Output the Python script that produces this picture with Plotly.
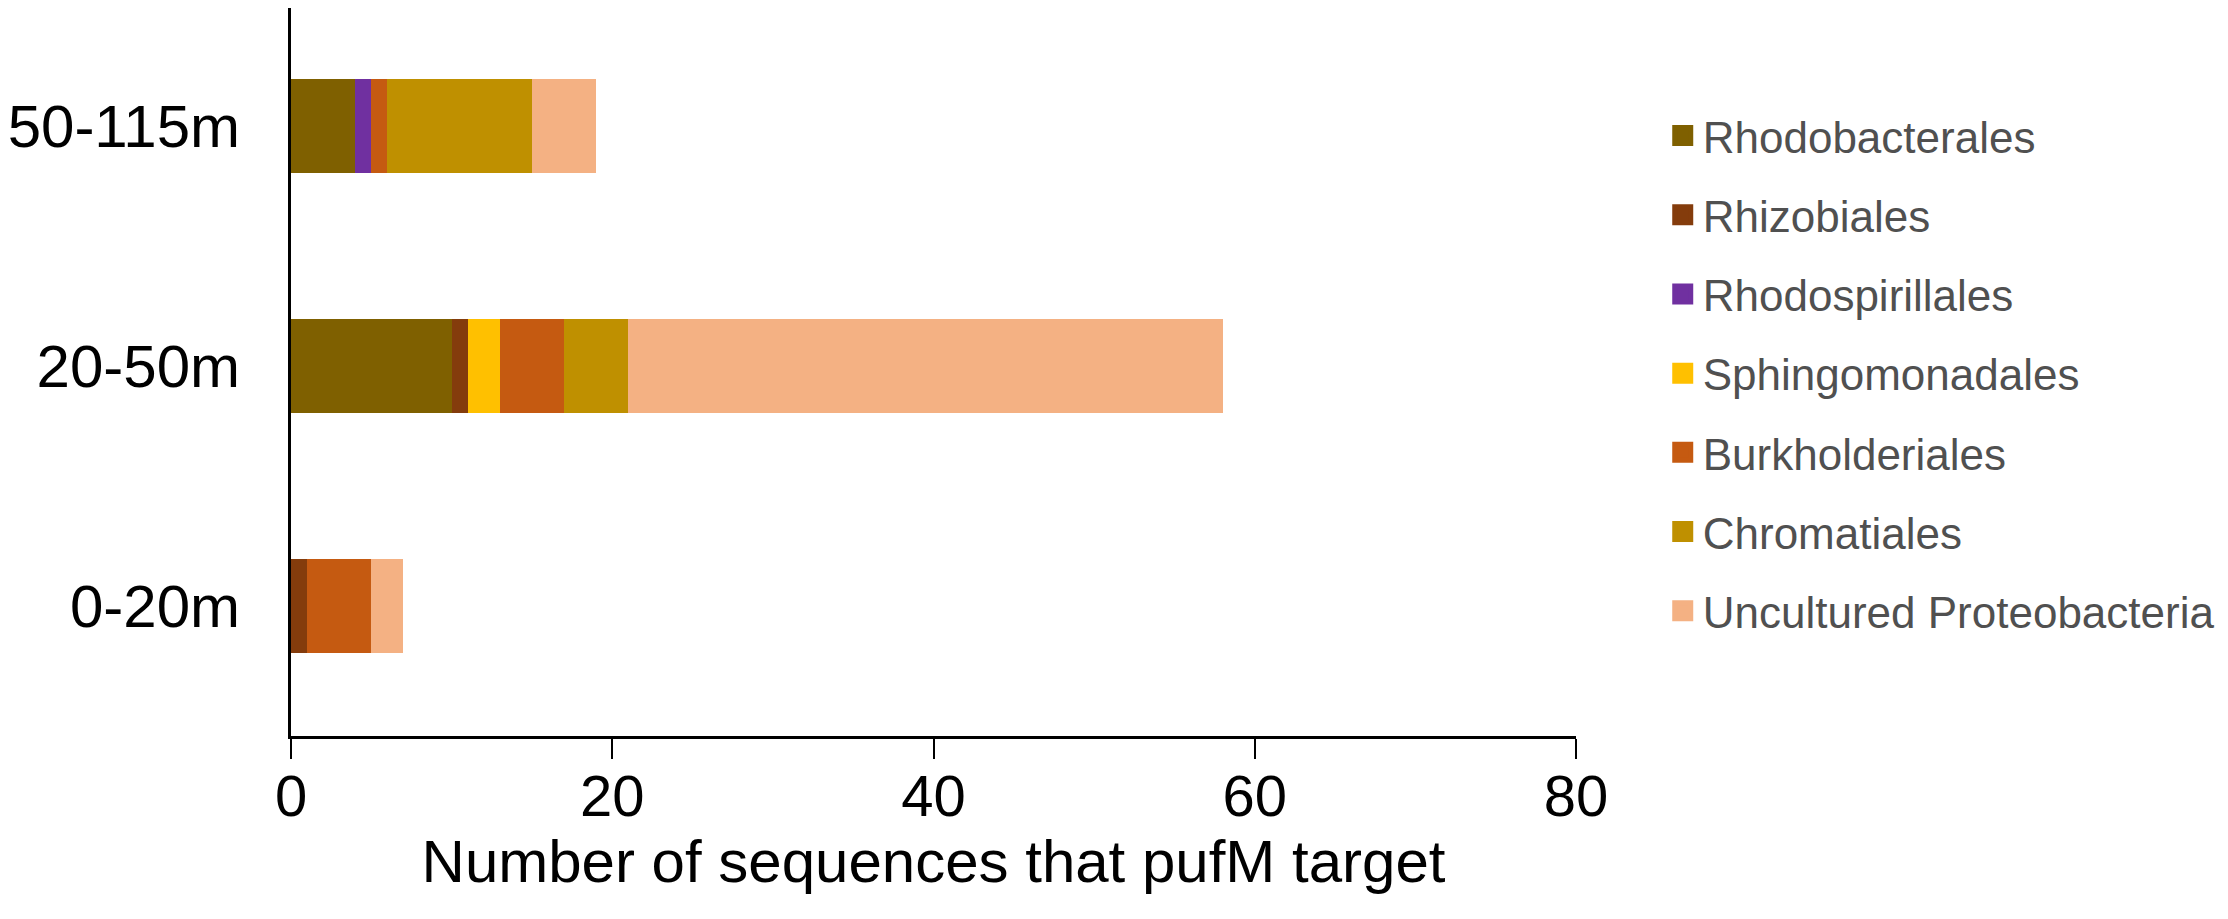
import plotly.graph_objects as go

# depth layers (bottom to top on the axis)
depths = ["0-20m", "20-50m", "50-115m"]

# number of pufM sequences per order, same order as depths
rhodobacterales = [0, 10, 4]
rhizobiales = [1, 1, 0]
rhodospirillales = [0, 0, 1]
sphingomonadales = [0, 2, 0]
burkholderiales = [4, 4, 1]
chromatiales = [0, 4, 9]
uncultured = [2, 37, 4]

orders = ["Rhodobacterales", "Rhizobiales", "Rhodospirillales", "Sphingomonadales",
          "Burkholderiales", "Chromatiales", "Uncultured Proteobacteria"]
values = [rhodobacterales, rhizobiales, rhodospirillales, sphingomonadales,
          burkholderiales, chromatiales, uncultured]
colors = ["#7F6000", "#843C0C", "#7030A0", "#FFC000", "#C55A11", "#BF9000", "#F4B183"]

x_ticks = [0, 20, 40, 60, 80]

fig = go.Figure()
for name, vals, col in zip(orders, values, colors):
    fig.add_trace(go.Bar(y=depths, x=vals, name=name, orientation="h",
                         marker=dict(color=col, line=dict(width=0)),
                         legendgroup=name, showlegend=False))
    # empty marker trace, only so the legend gets a bigger square
    fig.add_trace(go.Scatter(x=[None], y=[None], name=name, mode="markers",
                             marker=dict(symbol="square", size=16, color=col,
                                         line=dict(width=5, color=col)),
                             legendgroup=name, hoverinfo="skip"))

# page body has an 8px margin, margins below allow for it
fig.update_layout(
    barmode="stack",
    bargap=0.61,
    width=2228, height=919,
    margin=dict(l=280, r=660, t=0, b=191),
    plot_bgcolor="white", paper_bgcolor="white",
    font=dict(family="Liberation Sans, Arial, sans-serif", color="black", size=58),
    legend=dict(x=1.0675, xanchor="left", y=0.873, yanchor="top",
                font=dict(size=44, color="#505050"),
                traceorder="grouped", tracegroupgap=19, itemsizing="trace",
                bgcolor="rgba(0,0,0,0)"),
)
fig.update_xaxes(range=[0, 80], tickvals=x_ticks, showgrid=False, zeroline=False,
                 showline=True, linecolor="black", linewidth=3,
                 ticks="outside", ticklen=20, tickwidth=2, tickcolor="black",
                 tickfont=dict(size=58), ticklabelstandoff=-13,
                 title=dict(text="Number of sequences that pufM target", font=dict(size=60), standoff=13))
fig.update_yaxes(type="category", categoryarray=depths, range=[-0.54, 2.49],
                 showgrid=False, zeroline=False,
                 showline=True, linecolor="black", linewidth=3,
                 ticks="", tickfont=dict(size=60), ticklabelstandoff=36)

fig.write_html("out.html")
